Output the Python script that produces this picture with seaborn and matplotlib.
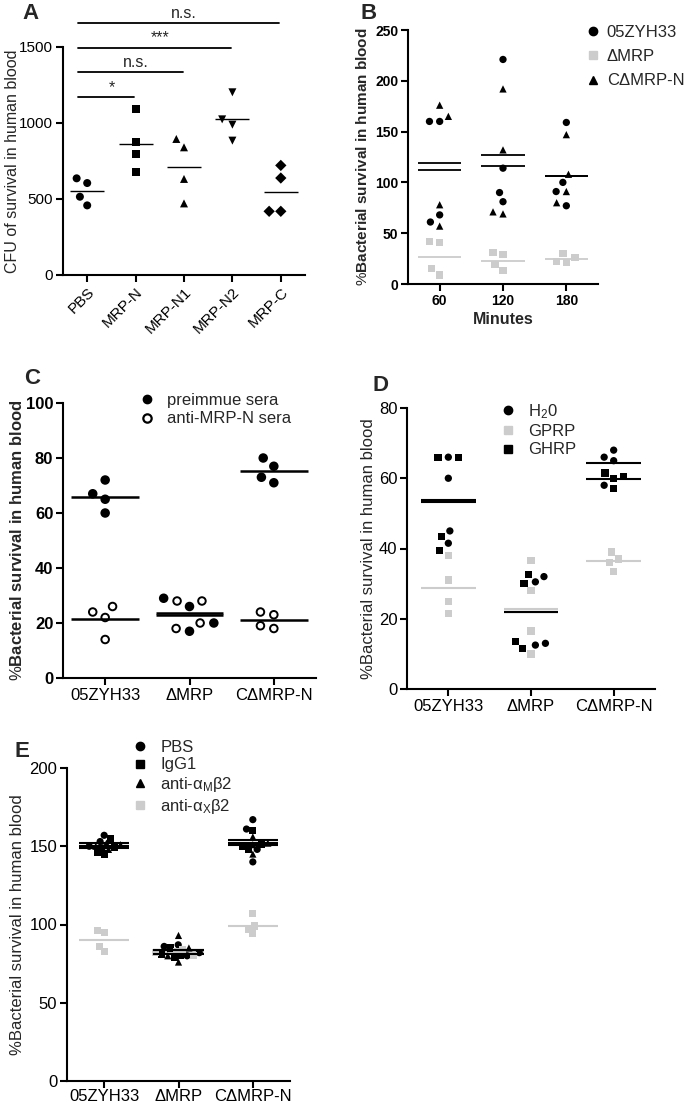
import numpy as np
import pandas as pd
import matplotlib
matplotlib.use("Agg")
import matplotlib.pyplot as plt
from matplotlib.lines import Line2D
from matplotlib.markers import MarkerStyle
import seaborn as sns

# ---- values ----
# A: CFU surviving in human blood after pretreatment
A_groups = ["PBS", "MRP-N", "MRP-N1", "MRP-N2", "MRP-C"]
A_values = [[636, 605, 515, 458],
            [1094, 873, 798, 678],
            [895, 840, 632, 471],
            [1202, 1024, 989, 884],
            [721, 638, 419, 419]]
A_tests = [("MRP-N", "*"), ("MRP-N1", "n.s."), ("MRP-N2", "***"), ("MRP-C", "n.s.")]

# B: survival over time (one list per time point)
B_times = ["60", "120", "180"]
B_strains = ["05ZYH33", "ΔMRP", "CΔMRP-N"]
B_wt = [[160, 160, 68, 61], [221, 114, 90, 81], [159, 100, 91, 77]]
B_dmrp = [[42, 41, 9, 15], [31, 29, 19, 13], [26, 30, 21, 22]]
B_comp = [[176, 165, 78, 57], [192, 132, 69, 71], [147, 108, 91, 80]]

strains = ["05ZYH33", "ΔMRP", "CΔMRP-N"]

# C: sera
C_sera = ["preimmue sera", "anti-MRP-N sera"]
C_pre = [[72, 67, 65, 60], [29, 26, 17, 20], [80, 77, 71, 73]]
C_anti = [[26, 24, 22, 14], [28, 28, 20, 18], [24, 23, 18, 19]]

# D: peptides
D_treat = ["H$_\\mathrm{2}$0", "GPRP", "GHRP"]
D_h2o = [[66, 60, 45, 41.5], [30.5, 32, 13, 12.5], [68, 65, 66, 58]]
D_gprp = [[38, 31, 25, 21.5], [36.5, 28, 16.5, 10], [39, 37, 36, 33.5]]
D_ghrp = [[66, 66, 43.5, 39.5], [32.5, 30, 13.5, 11.5], [60.5, 60, 61.5, 57]]

# E: antibodies
E_treat = ["PBS", "IgG1", "anti-α$_\\mathrm{M}$β2", "anti-α$_\\mathrm{X}$β2"]
E_pbs = [[157, 153, 150, 149], [87, 86, 82, 80], [167, 161, 148, 140]]
E_igg = [[155, 146, 145, 149], [85, 81, 80, 79], [160, 151, 148, 150]]
E_am = [[150, 148, 152, 151], [93, 85, 80, 76], [156, 151, 145, 152]]
E_ax = [[96, 95, 86, 83], [84, 82, 80, 83], [107, 99, 97, 94]]

GRAY = "#cccccc"
W, H = 685, 1103

sns.set_style("ticks")
plt.rcParams["font.family"] = ["Liberation Sans", "DejaVu Sans"]
plt.rcParams["mathtext.fontset"] = "custom"
plt.rcParams["mathtext.rm"] = "Liberation Sans"
plt.rcParams["mathtext.bf"] = "Liberation Sans:bold"
plt.rcParams["mathtext.it"] = "Liberation Sans:italic"


def long_frame(groups, series, arrays):
    rows = []
    for s, arr in zip(series, arrays):
        for g, vals in zip(groups, arr):
            for v in vals:
                rows.append((g, s, v))
    return pd.DataFrame(rows, columns=["group", "series", "value"])


def marker_path(m, scale):
    ms = MarkerStyle(m)
    return ms.get_path().transformed(ms.get_transform().scale(scale))


def dot_panel(ax, df, order, hue_order, colors, markers, size, shrink=0.75,
              half=0.35, mean_lw=1.3, open_edge=False):
    n0 = len(ax.collections)
    sns.swarmplot(data=df, x="group", y="value", hue="series", order=order,
                  hue_order=hue_order, palette=colors, size=size, linewidth=0,
                  legend=False, ax=ax)
    for coll in ax.collections[n0:]:
        gi = int(round(coll.get_offsets()[0, 0]))
        ser = df.loc[df["group"] == order[gi], "series"]
        coll.set_paths([marker_path(markers[s], shrink) for s in ser])
        if open_edge:
            coll.set_edgecolor("black")
            coll.set_linewidth(1.4)
    means = df.groupby(["group", "series"], sort=False)["value"].mean()
    for (g, s), m in means.items():
        i = order.index(g)
        gray = colors[s] == GRAY
        ax.hlines(m, i - half, i + half, color=GRAY if gray else "black",
                  lw=mean_lw, zorder=2.5 if gray else 3)


def make_axes(fig, l, r, t, b):
    return fig.add_axes([l / W, 1 - b / H, (r - l) / W, (b - t) / H])


def style(ax, n, ylim, yticks, fs=11, bold_y=False, bold_x=False):
    sns.despine(ax=ax)
    ax.set_xlim(-0.5, n - 0.5)
    ax.set_ylim(*ylim)
    ax.set_yticks(yticks)
    for sp in ("left", "bottom"):
        ax.spines[sp].set_linewidth(1.5)
        ax.spines[sp].set_color("black")
    ax.tick_params(width=1.5, length=5, labelsize=fs, pad=2, colors="black")
    ax.set_xlabel("")
    if bold_y:
        for lb in ax.get_yticklabels():
            lb.set_fontweight("bold")
    if bold_x:
        for lb in ax.get_xticklabels():
            lb.set_fontweight("bold")


def set_ylabel(ax, text, l, r, x_px, fs=11, weight="normal"):
    ax.set_ylabel(text, fontsize=fs, fontweight=weight)
    ax.yaxis.set_label_coords((x_px - l) / (r - l), 0.5)


def add_legend(ax, fig, labels, colors, markers, x, y, fs, spacing, pad,
               open_labels=()):
    handles = []
    for lab in labels:
        if lab in open_labels:
            h = Line2D([], [], ls="none", marker=markers[lab], markersize=6,
                       markerfacecolor="white", markeredgecolor="black",
                       markeredgewidth=1.6)
        else:
            h = Line2D([], [], ls="none", marker=markers[lab], markersize=6,
                       markerfacecolor=colors[lab], markeredgecolor=colors[lab])
        handles.append(h)
    ax.legend(handles, labels, loc="upper left", bbox_to_anchor=(x / W, 1 - y / H),
              bbox_transform=fig.transFigure, frameon=False, fontsize=fs,
              borderpad=0, handlelength=1.0, handletextpad=pad,
              labelspacing=spacing, borderaxespad=0)


ylab_bold = "%$\\mathbf{Bacterial\\ survival\\ in\\ human\\ blood}$"
ylab = "%Bacterial survival in human blood"

fig = plt.figure(figsize=(W / 100, H / 100), dpi=100)

# ---------------- A ----------------
l, r, t, b = 63, 305, 47, 275
axA = make_axes(fig, l, r, t, b)
dfA = long_frame(A_groups, A_groups, [[v if g == gg else [] for gg, v in zip(A_groups, A_values)]
                                        for g in A_groups])
A_colors = {g: "black" for g in A_groups}
A_markers = dict(zip(A_groups, ["o", "s", "^", "v", "D"]))
dot_panel(axA, dfA, A_groups, A_groups, A_colors, A_markers, size=8, shrink=0.72,
          half=0.35, mean_lw=1.0)
style(axA, 5, (0, 1500), [0, 500, 1000, 1500], fs=11)
axA.set_xticks(range(5))
axA.set_xticklabels(A_groups, rotation=45, ha="right", rotation_mode="anchor")
set_ylabel(axA, "CFU of survival in human blood", l, r, 20, fs=11.5)
for k, (grp, lab) in enumerate(A_tests):
    j = A_groups.index(grp)
    hgt = 1170 + 163 * k
    axA.plot([-0.2, j - 0.03], [hgt, hgt], color="black", lw=1.3, clip_on=False)
    axA.text((j - 0.2) / 2 + 0.1, hgt + 15, lab, ha="center", va="bottom",
             fontsize=11.5, clip_on=False)

# ---------------- B ----------------
l, r, t, b = 408, 598, 30, 284
axB = make_axes(fig, l, r, t, b)
dfB = long_frame(B_times, B_strains, [B_wt, B_dmrp, B_comp])
B_colors = dict(zip(B_strains, ["black", GRAY, "black"]))
B_markers = dict(zip(B_strains, ["o", "s", "^"]))
dot_panel(axB, dfB, B_times, B_strains, B_colors, B_markers, size=7, shrink=0.75,
          half=0.34, mean_lw=1.3)
style(axB, 3, (0, 250), range(0, 251, 50), fs=10, bold_y=True, bold_x=True)
axB.set_xlabel("Minutes", fontsize=11.5, fontweight="bold", labelpad=3)
set_ylabel(axB, ylab_bold, l, r, 370, fs=11)
add_legend(axB, fig, B_strains, B_colors, B_markers, 585, 25, 12, 0.55, 0.3)

# ---------------- C ----------------
l, r, t, b = 63, 316, 403, 678
axC = make_axes(fig, l, r, t, b)
dfC = long_frame(strains, C_sera, [C_pre, C_anti])
C_colors = dict(zip(C_sera, ["black", "white"]))
C_markers = dict(zip(C_sera, ["o", "o"]))
dot_panel(axC, dfC, strains, C_sera, C_colors, C_markers, size=8, shrink=0.68,
          half=0.40, mean_lw=1.8, open_edge=True)
style(axC, 3, (0, 100), range(0, 101, 20), fs=12, bold_y=True)
set_ylabel(axC, ylab_bold, l, r, 25, fs=12)
add_legend(axC, fig, C_sera, C_colors, C_markers, 139, 393, 12, 0.2, 0.7,
           open_labels=("anti-MRP-N sera",))

# ---------------- D ----------------
l, r, t, b = 407, 655, 408, 689
axD = make_axes(fig, l, r, t, b)
dfD = long_frame(strains, D_treat, [D_h2o, D_gprp, D_ghrp])
D_colors = dict(zip(D_treat, ["black", GRAY, "black"]))
D_markers = dict(zip(D_treat, ["o", "s", "s"]))
dot_panel(axD, dfD, strains, D_treat, D_colors, D_markers, size=7, shrink=0.75,
          half=0.33, mean_lw=1.5)
style(axD, 3, (0, 80), range(0, 81, 20), fs=12)
set_ylabel(axD, ylab, l, r, 376, fs=12)
add_legend(axD, fig, D_treat, D_colors, D_markers, 500, 402, 12, 0.2, 0.7)

# ---------------- E ----------------
l, r, t, b = 67, 290, 768, 1081
axE = make_axes(fig, l, r, t, b)
dfE = long_frame(strains, E_treat, [E_pbs, E_igg, E_am, E_ax])
E_colors = dict(zip(E_treat, ["black", "black", "black", GRAY]))
E_markers = dict(zip(E_treat, ["o", "s", "^", "s"]))
dot_panel(axE, dfE, strains, E_treat, E_colors, E_markers, size=4.5, shrink=1.15,
          half=0.34, mean_lw=1.5)
style(axE, 3, (0, 200), range(0, 201, 50), fs=12)
axE.tick_params(axis="x", pad=1)
set_ylabel(axE, ylab, l, r, 25, fs=12)
add_legend(axE, fig, E_treat, E_colors, E_markers, 132, 740, 12, 0.15, 0.7)

# panel letters
for letter, x, y in [("A", 22, 3), ("B", 361, 3), ("C", 24, 368), ("D", 372, 375), ("E", 14, 741)]:
    fig.text(x / W, 1 - y / H, letter, fontsize=16, fontweight="bold", va="top", ha="left")

fig.savefig("out.png", dpi=100)
